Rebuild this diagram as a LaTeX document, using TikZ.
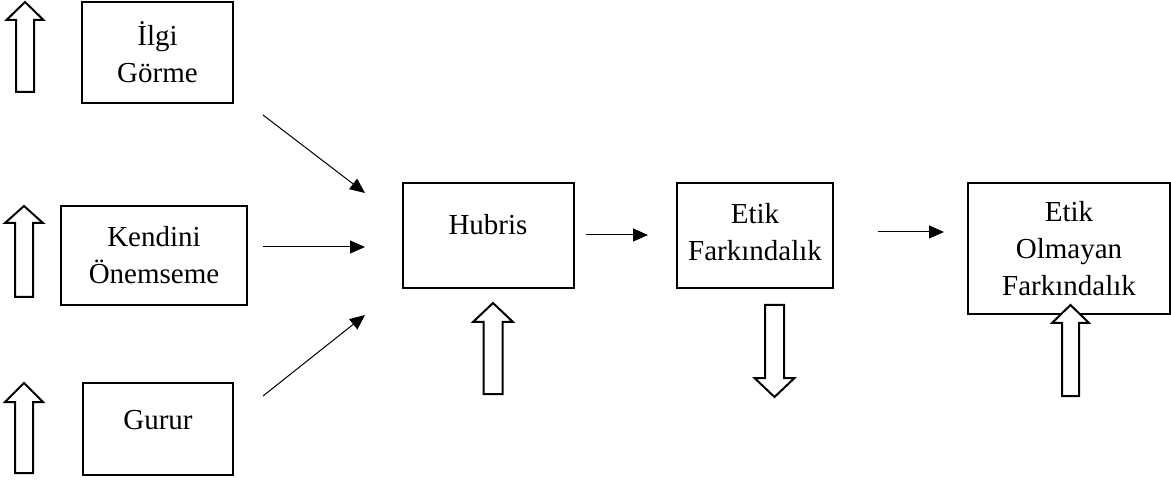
\documentclass[tikz,border=0pt]{standalone}
\usepackage{fontspec}
\setmainfont{Liberation Serif}
\usetikzlibrary{arrows.meta}
\newcommand{\hollowarrow}[6]{% cx, tipy, basey, endy, headhalf, shafthalf
  \draw[hollow] (#1,#2) -- (#1+#5,#3) -- (#1+#6,#3) -- (#1+#6,#4) -- (#1-#6,#4) -- (#1-#6,#3) -- (#1-#5,#3) -- cycle;}
\begin{document}
\begin{tikzpicture}[x=1pt,y=-1pt,
  box/.style={draw, line width=2pt, inner sep=0pt, align=center, font=\fontsize{29}{37}\selectfont},
  txt/.style={inner sep=0pt, align=center, font=\fontsize{29}{37}\selectfont},
  conn/.style={line width=1pt, -{Triangle[length=15pt,width=13pt]}},
  hollow/.style={draw, fill=white, line width=2pt, line join=miter}]
\useasboundingbox (0,0) rectangle (1171,481);
% boxes
\node[box, minimum width=151pt, minimum height=101pt] (ilgi) at (157.5,52.5) {İlgi\\Görme};
\node[box, minimum width=186pt, minimum height=99pt] (kendini) at (154,255.5) {Kendini\\Önemseme};
\node[box, minimum width=150pt, minimum height=92pt] (gurur) at (158,429) {};
\node[txt] (gururtxt) at (158,420) {Gurur};
\node[box, minimum width=171pt, minimum height=105pt] (hubris) at (488.5,235.5) {};
\node[txt] (hubristxt) at (488,225) {Hubris};
\node[box, minimum width=156pt, minimum height=105pt] (etik) at (755,235.5) {};
\node[txt] (etiktxt) at (755,232) {Etik\\Farkındalık};
\node[box, minimum width=202pt, minimum height=131pt] (etikol) at (1069,248.5) {Etik\\Olmayan\\Farkındalık};
% connector endpoints
\coordinate (a1) at (263,115); \coordinate (b1) at (365,193);
\coordinate (a2) at (263,247); \coordinate (b2) at (365,247);
\coordinate (a3) at (263,396); \coordinate (b3) at (365,315);
\coordinate (a4) at (586,235); \coordinate (b4) at (648,235);
\coordinate (a5) at (878,232); \coordinate (b5) at (944,232);
\draw[conn] (a1) -- (b1);
\draw[conn] (a2) -- (b2);
\draw[conn] (a3) -- (b3);
\draw[conn] (a4) -- (b4);
\draw[conn] (a5) -- (b5);
% hollow block arrows
\hollowarrow{25}{2}{20}{92}{18.5}{9}
\hollowarrow{24}{206}{223}{297}{19}{9}
\hollowarrow{24}{383}{402}{473}{19}{9}
\hollowarrow{493}{303}{322}{394}{20}{9.5}
\hollowarrow{774.5}{397}{378}{305}{20}{9.5}
\hollowarrow{1070.5}{305}{323}{396}{18.5}{8.5}
\end{tikzpicture}
\end{document}
